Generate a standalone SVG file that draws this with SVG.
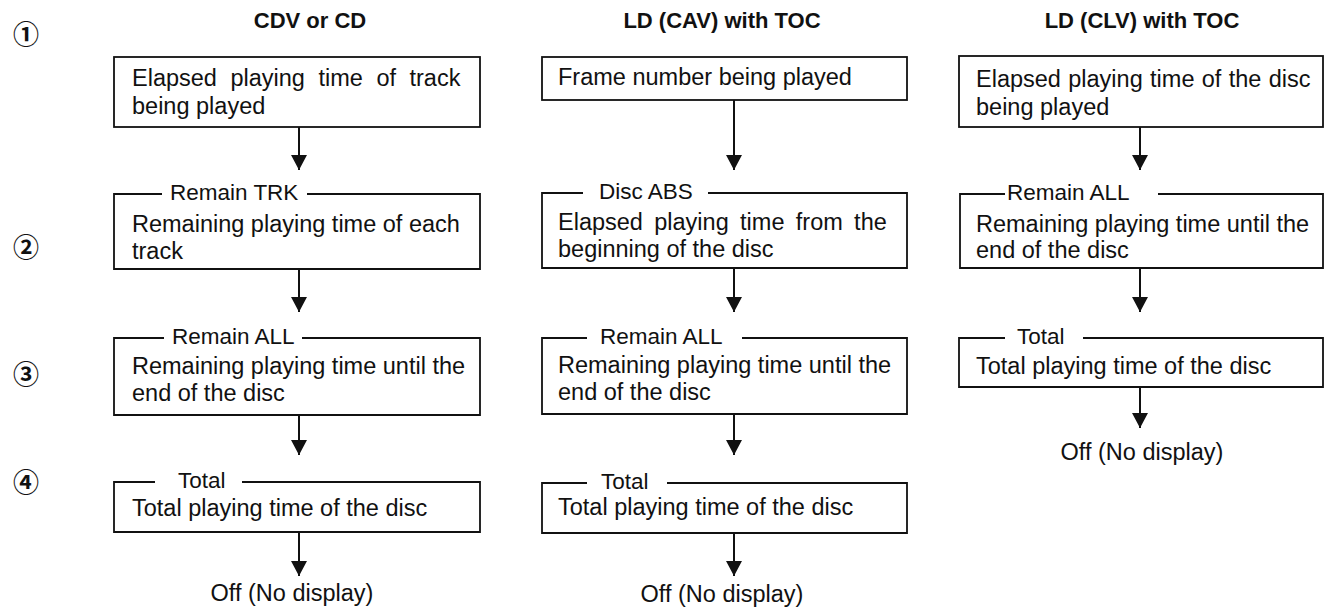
<svg xmlns="http://www.w3.org/2000/svg" width="1330" height="611" viewBox="0 0 1330 611">
<style>
.t{font-family:"Liberation Sans",Arial,sans-serif;font-size:23.5px;fill:#111}
.l{font-family:"Liberation Sans",Arial,sans-serif;font-size:22.5px;fill:#111}
.h{font-family:"Liberation Sans",Arial,sans-serif;font-size:22px;font-weight:bold;fill:#111;text-anchor:middle}
.c{font-family:"Noto Sans CJK JP","DejaVu Sans",sans-serif;font-size:26px;font-weight:bold;fill:#111;text-anchor:middle}
.m{text-anchor:middle}
.box{fill:none;stroke:#111;stroke-width:1.8}
.ar{fill:none;stroke:#111;stroke-width:2;marker-end:url(#ah)}
</style>
<defs>
<marker id="ah" markerUnits="userSpaceOnUse" markerWidth="15" markerHeight="16" viewBox="0 0 15 16" refX="15" refY="8" orient="auto">
<path d="M0,0 L15,8 L0,16 Z" fill="#111"/>
</marker>
</defs>
<rect width="1330" height="611" fill="#fff"/>
<g id="titles">
<text class="h" x="310" y="28">CDV or CD</text>
<text class="h" x="722" y="28">LD (CAV) with TOC</text>
<text class="h" x="1142" y="28">LD (CLV) with TOC</text>
</g>
<g id="steps">
<text class="c" x="26" y="44">①</text>
<text class="c" x="26" y="257">②</text>
<text class="c" x="26" y="384">③</text>
<text class="c" x="26" y="492">④</text>
</g>
<g id="connectors">
<line class="ar" x1="299" y1="127" x2="299" y2="170"/>
<line class="ar" x1="299" y1="269" x2="299" y2="312"/>
<line class="ar" x1="299" y1="415" x2="299" y2="455"/>
<line class="ar" x1="299" y1="532" x2="299" y2="576"/>
<line class="ar" x1="734" y1="100" x2="734" y2="170"/>
<line class="ar" x1="734" y1="268" x2="734" y2="312"/>
<line class="ar" x1="734" y1="414" x2="734" y2="455"/>
<line class="ar" x1="734" y1="533" x2="734" y2="576"/>
<line class="ar" x1="1140" y1="127" x2="1140" y2="170"/>
<line class="ar" x1="1140" y1="268" x2="1140" y2="312"/>
<line class="ar" x1="1140" y1="387" x2="1140" y2="428"/>
</g>
<g id="cd1">
<rect class="box" x="114" y="57" width="366" height="70"/>
<text class="t" x="132" y="86" word-spacing="7">Elapsed playing time of track</text>
<text class="t" x="132" y="114">being played</text>
</g>
<g id="cd2">
<path class="box" d="M162,194 H114 V269 H480 V194 H307"/>
<text class="l" x="170" y="200">Remain TRK</text>
<text class="t" x="132" y="232">Remaining playing time of each</text>
<text class="t" x="132" y="259">track</text>
</g>
<g id="cd3">
<path class="box" d="M164,338 H114 V415 H480 V338 H302"/>
<text class="l" x="172" y="344">Remain ALL</text>
<text class="t" x="132" y="374">Remaining playing time until the</text>
<text class="t" x="132" y="401">end of the disc</text>
</g>
<g id="cd4">
<path class="box" d="M155,482 H114 V532 H480 V482 H242"/>
<text class="l" x="178" y="488">Total</text>
<text class="t" x="132" y="516">Total playing time of the disc</text>
</g>
<g id="cd-off">
<text class="t m" x="292" y="601">Off (No display)</text>
</g>
<g id="cav1">
<rect class="box" x="542" y="57" width="365" height="43"/>
<text class="t" x="558" y="85">Frame number being played</text>
</g>
<g id="cav2">
<path class="box" d="M583,193 H542 V268 H907 V193 H708"/>
<text class="l" x="599" y="199">Disc ABS</text>
<text class="t" x="558" y="230" word-spacing="4.8">Elapsed playing time from the</text>
<text class="t" x="558" y="257">beginning of the disc</text>
</g>
<g id="cav3">
<path class="box" d="M587,338 H542 V414 H907 V338 H742"/>
<text class="l" x="600" y="344">Remain ALL</text>
<text class="t" x="558" y="373">Remaining playing time until the</text>
<text class="t" x="558" y="400">end of the disc</text>
</g>
<g id="cav4">
<path class="box" d="M587,483 H542 V533 H907 V483 H667"/>
<text class="l" x="601" y="489">Total</text>
<text class="t" x="558" y="515">Total playing time of the disc</text>
</g>
<g id="cav-off">
<text class="t m" x="722" y="602">Off (No display)</text>
</g>
<g id="clv1">
<rect class="box" x="959" y="56" width="364" height="71"/>
<text class="t" x="976" y="87" word-spacing="0.8">Elapsed playing time of the disc</text>
<text class="t" x="976" y="115">being played</text>
</g>
<g id="clv2">
<path class="box" d="M1005,194 H960 V268 H1323 V194 H1158"/>
<text class="l" x="1007" y="200">Remain ALL</text>
<text class="t" x="976" y="232">Remaining playing time until the</text>
<text class="t" x="976" y="258">end of the disc</text>
</g>
<g id="clv3">
<path class="box" d="M1005,338 H959 V387 H1323 V338 H1083"/>
<text class="l" x="1017" y="344">Total</text>
<text class="t" x="976" y="374">Total playing time of the disc</text>
</g>
<g id="clv-off">
<text class="t m" x="1142" y="460">Off (No display)</text>
</g>
</svg>
